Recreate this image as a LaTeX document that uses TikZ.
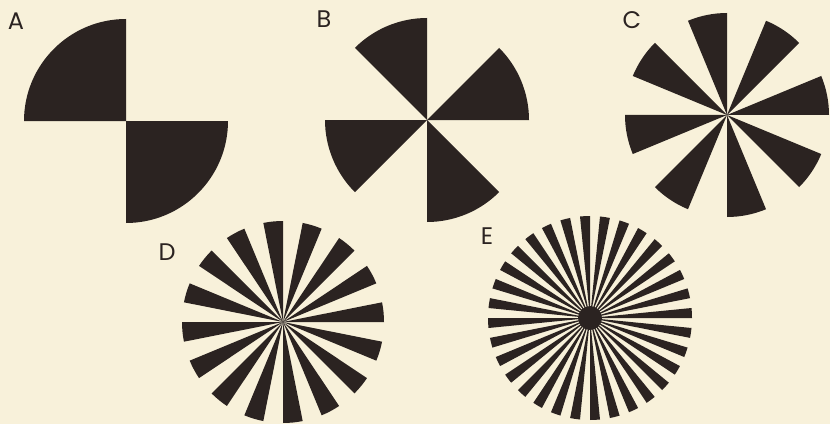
\documentclass[tikz,border=0pt]{standalone}
\usepackage{fontspec}
\setmainfont{Poppins}
\usepackage{tikz}
\usepackage{xcolor}
\definecolor{paper}{HTML}{F8F1DA}
\definecolor{ink}{HTML}{2B2321}
\tikzset{
  wedge/.style={fill=ink},
  hub/.style={fill=ink},
  letter/.style={font=\fontsize{24}{28}\selectfont,text=ink,inner sep=0pt},
}
% fan of wedges: centre, number of black wedges, start angle, radius
\newcommand{\fan}[4]{%
  \pgfmathsetmacro{\wdg}{180/#2}
  \foreach \k in {1,...,#2}{
    \pgfmathsetmacro{\ang}{#3+(\k-1)*2*\wdg}
    \fill[wedge] (#1) -- ++(\ang:#4) arc[start angle=\ang,delta angle=\wdg,radius=#4] -- cycle;
  }}

\begin{document}
\begin{tikzpicture}[x=1pt,y=1pt]
  \fill[paper] (0,0) rectangle (830,424);
  \useasboundingbox (0,0) rectangle (830,424);

  \coordinate (cA) at (126,303);
  \coordinate (cB) at (427,304);
  \coordinate (cC) at (727,309);
  \coordinate (cD) at (283,102);
  \coordinate (cE) at (590,106);

  \fan{cA}{2}{90}{102}
  \fan{cB}{4}{0}{102}
  \fan{cC}{8}{0}{102}
  \fan{cD}{16}{0}{101}
  \fan{cE}{32}{0}{102}
  \fill[hub] (cE) circle[radius=12];

  \node[letter] (labA) at (16,403) {A};
  \node[letter] (labB) at (324,405) {B};
  \node[letter] (labC) at (632,404) {C};
  \node[letter] (labD) at (167,172) {D};
  \node[letter] (labE) at (487,188) {E};
\end{tikzpicture}
\end{document}
